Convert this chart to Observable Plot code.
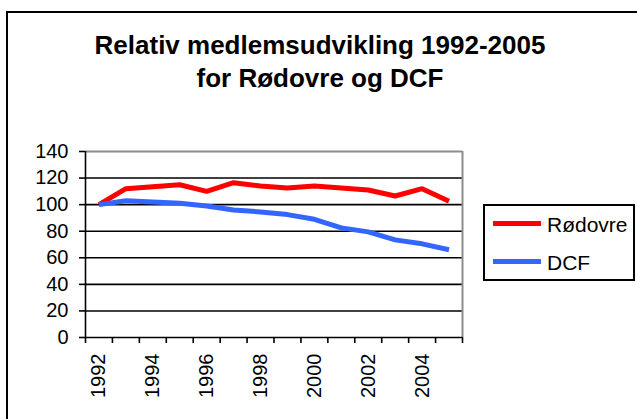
<!DOCTYPE html>
<html>
<head>
<meta charset="utf-8">
<script src="https://cdn.jsdelivr.net/npm/d3@7"></script>
<script src="https://cdn.jsdelivr.net/npm/@observablehq/plot@0.6"></script>
<style>
  html, body { margin: 0; padding: 0; background: #fff; }
  #wrap { position: relative; width: 637px; height: 419px; overflow: hidden; font-family: "Liberation Sans", Arial, sans-serif; color: #000; }
  #chart { position: absolute; left: 0; top: 0; }
  #frame { position: absolute; left: 6px; top: 11px; width: 700px; height: 500px; border-left: 2px solid #000; border-top: 2px solid #000; pointer-events: none; }
  .title { position: absolute; left: 0; width: 640px; text-align: center; font-weight: bold; font-size: 26px; white-space: nowrap; }
  #legend { position: absolute; left: 483px; top: 204px; width: 148px; height: 73px; border: 2px solid #000; background: #fff; }
  .lg-line { position: absolute; left: 8px; width: 48px; height: 5px; }
  .lg-text { position: absolute; left: 62px; font-size: 21px; line-height: 1; white-space: nowrap; }
</style>
</head>
<body>
<div id="wrap">
  <div id="chart"></div>
  <div id="frame"></div>
  <div class="title" id="t1" style="top:30px">Relativ medlemsudvikling 1992-2005</div>
  <div class="title" id="t2" style="top:63px">for Rødovre og DCF</div>
  <div id="legend"></div>
</div>
<script>
const years = [1992, 1993, 1994, 1995, 1996, 1997, 1998, 1999, 2000, 2001, 2002, 2003, 2004, 2005];
const rodovre = [100, 112, 113.5, 115, 110, 116.5, 114, 112.5, 114, 112.5, 111, 106.5, 112, 102.5];
const dcf = [100, 103, 102, 101, 99, 96, 94.5, 92.5, 89, 82.5, 79.5, 73.5, 70.5, 66];
const seriesNames = ["Rødovre", "DCF"];
const seriesColors = ["#ff0000", "#3366ff"];
const yTicks = [0, 20, 40, 60, 80, 100, 120, 140];
const xLabelTicks = [1992, 1994, 1996, 1998, 2000, 2002, 2004];

const rows = [];
years.forEach((y, i) => {
  rows.push({year: y, value: rodovre[i], series: seriesNames[0]});
  rows.push({year: y, value: dcf[i], series: seriesNames[1]});
});
const boundaries = years.map(y => y - 0.5).concat([years[years.length - 1] + 0.5]);
const x0 = boundaries[0], x1 = boundaries[boundaries.length - 1];

const plot = Plot.plot({
  width: 637,
  height: 419,
  marginLeft: 85,
  marginRight: 175,
  marginTop: 151,
  marginBottom: 82,
  style: {fontFamily: "Liberation Sans, Arial, sans-serif", fontSize: "20px", background: "transparent", color: "#000"},
  x: {type: "linear", domain: [x0, x1], label: null},
  y: {domain: [0, 140], label: null},
  color: {domain: seriesNames, range: seriesColors},
  marks: [
    Plot.gridY(yTicks.filter(d => d > 0 && d < 140), {stroke: "#000", strokeOpacity: 1, strokeWidth: 1.6}),
    Plot.ruleY([140], {stroke: "#8c8c8c", strokeWidth: 2}),
    Plot.ruleX([x1], {stroke: "#8c8c8c", strokeWidth: 2}),
    Plot.ruleX([x0], {stroke: "#000", strokeWidth: 1.6}),
    Plot.ruleY([0], {stroke: "#000", strokeWidth: 1.6}),
    Plot.axisY(yTicks, {tickSize: 6, tickPadding: 11, fontSize: 20, strokeWidth: 1.6, label: null}),
    Plot.axisX(boundaries, {tickSize: 6, tickFormat: () => "", strokeWidth: 1.6, label: null}),
    Plot.axisX(xLabelTicks, {tickSize: 0, tickPadding: 16, tickRotate: -90, fontSize: 20, tickFormat: d => String(d), label: null}),
    Plot.line(rows, {x: "year", y: "value", z: "series", stroke: "series", strokeWidth: 5, strokeLinejoin: "miter", strokeLinecap: "butt"})
  ]
});
document.getElementById("chart").appendChild(plot);

const legend = document.getElementById("legend");
const lineTops = [15, 53];
seriesNames.forEach((name, i) => {
  const ln = document.createElement("div");
  ln.className = "lg-line";
  ln.style.top = lineTops[i] + "px";
  ln.style.background = seriesColors[i];
  legend.appendChild(ln);
  const tx = document.createElement("div");
  tx.className = "lg-text";
  tx.style.top = (lineTops[i] - 7) + "px";
  tx.textContent = name;
  legend.appendChild(tx);
});
</script>
</body>
</html>
